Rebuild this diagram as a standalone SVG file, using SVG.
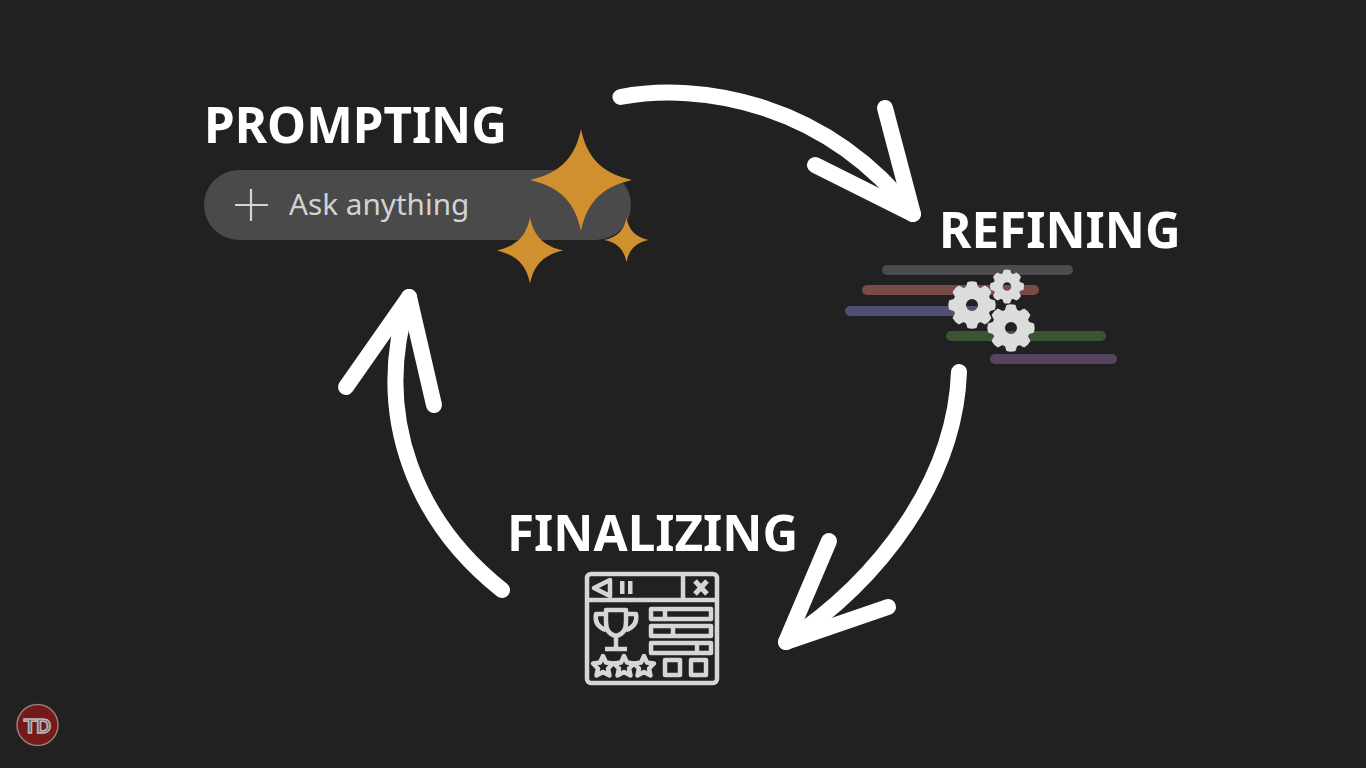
<svg xmlns="http://www.w3.org/2000/svg" xmlns:xlink="http://www.w3.org/1999/xlink" width="1366" height="768" viewBox="0 0 1366 768">
<style>
.title{font-family:"Noto Sans",sans-serif;font-weight:700;font-size:49.400px;fill:#fff}
.arrow{fill:none;stroke:#fff;stroke-width:16;stroke-linecap:round;stroke-linejoin:round}
.star{fill:#d19030}
.bar{stroke-width:10;stroke-linecap:round;fill:none}
.ic{fill:none;stroke:#d6d6d6;stroke-width:4.500;stroke-linejoin:round}
.icf{fill:#d6d6d6}
</style>
<defs>
<path id="sparkle" d="M0 -51C6 -22 21 -7 51 0C21 7 6 22 0 51C-6 22 -21 7 -51 0C-21 -7 -6 -22 0 -51Z"/>
<path id="tooth" d="M-6.500 -17L-4.500 -23Q0 -24.500 4.500 -23L6.500 -17Z" fill="#dcdcdc"/>
<g id="gearshape">
<circle r="12.500" fill="none" stroke="#dcdcdc" stroke-width="13"/>
<use xlink:href="#tooth"/>
<use xlink:href="#tooth" transform="rotate(45)"/>
<use xlink:href="#tooth" transform="rotate(90)"/>
<use xlink:href="#tooth" transform="rotate(135)"/>
<use xlink:href="#tooth" transform="rotate(180)"/>
<use xlink:href="#tooth" transform="rotate(225)"/>
<use xlink:href="#tooth" transform="rotate(270)"/>
<use xlink:href="#tooth" transform="rotate(315)"/>
</g>
<path id="mini" class="ic" d="M0 -11L3 -4.500L10 -3.500L5 1.500L6.500 8.500L0 5L-6.500 8.500L-5 1.500L-10 -3.500L-3 -4.500Z"/>
</defs>
<rect width="1366" height="768" fill="#212121"/>
<g id="connectors">
<path class="arrow" d="M620.500 97C700 82 825 102 913 214"/>
<path class="arrow" d="M885 108L913 214L815 165"/>
<path class="arrow" d="M959 372C955 480 880 580 786 642"/>
<path class="arrow" d="M829 541L786 642L888 607"/>
<path class="arrow" d="M502 590C420 525 370 420 409 297"/>
<path class="arrow" d="M346 387L409 297L434 405"/>
</g>
<g id="prompting">
<text class="title" x="204" y="143">PROMPTING</text>
<rect x="204" y="170" width="427" height="70" rx="35" fill="#4a4a4a"/>
<path d="M235 205H268M251 189V221" stroke="#d4d4d4" stroke-width="2.200" fill="none"/>
<text x="289" y="215" font-family="'Noto Sans',sans-serif" font-size="29.700" fill="#d2d2d2">Ask anything</text>
<use xlink:href="#sparkle" class="star" transform="translate(581 180)"/>
<use xlink:href="#sparkle" class="star" transform="translate(530 250.500) scale(.647)"/>
<use xlink:href="#sparkle" class="star" transform="translate(626.500 240) scale(.43)"/>
</g>
<g id="refining">
<text class="title" x="939" y="248">REFINING</text>
<path class="bar" stroke="#4c4c4c" d="M887 270H1068"/>
<path class="bar" stroke="#7a4a48" d="M867 290H1034"/>
<path class="bar" stroke="#4f4e73" d="M850 311H975"/>
<path class="bar" stroke="#3b5434" d="M951 336H1101"/>
<path class="bar" stroke="#56455f" d="M995 359H1112"/>
<use id="gear-1" xlink:href="#gearshape" transform="translate(972 305)"/>
<g id="gear-2">
<path d="M993 336H1028" stroke="#212121" stroke-width="11"/>
<path d="M1005 336H1017" stroke="#3b5434" stroke-width="10"/>
<use xlink:href="#gearshape" transform="translate(1011 328)"/>
</g>
<use id="gear-3" xlink:href="#gearshape" transform="translate(1007 286.500) scale(.72)"/>
</g>
<g id="finalizing">
<text class="title" x="507" y="551">FINALIZING</text>
<rect class="ic" x="587" y="574" width="130" height="109" rx="4"/>
<path class="ic" d="M587 600H717M683 574V600"/>
<path class="ic" d="M610 580L594 588L610 596Z"/>
<rect class="icf" x="620" y="581" width="4.500" height="13"/>
<rect class="icf" x="628" y="581" width="4.500" height="13"/>
<path d="M695 581L707 594M707 581L695 594" fill="none" stroke="#d6d6d6" stroke-width="5"/>
<path class="ic" d="M606 610H626V622Q626 634 616 636Q606 634 606 622ZM606 614H596Q594 626 606 630M626 614H636Q638 626 626 630M616 636V648M605 649H627"/>
<path class="ic" d="M651 609H711V619H651ZM665 609V619M651 626H711V636H651ZM673 626V636M651 643H711V653H651ZM697 643V653"/>
<path class="ic" d="M665 660H680V675H665ZM691 660H706V675H691Z"/>
<use xlink:href="#mini" transform="translate(603 667)"/>
<use xlink:href="#mini" transform="translate(624 667)"/>
<use xlink:href="#mini" transform="translate(644 667)"/>
</g>
<g id="logo">
<circle cx="37.500" cy="725" r="20.500" fill="#751a1a" stroke="#a07a7a" stroke-width="1.500"/>
<text x="37.500" y="732.500" text-anchor="middle" font-family="'Liberation Sans',sans-serif" font-weight="700" font-size="20.500" fill="#666" stroke="#b9b9b9" stroke-width="1.500">TD</text>
</g>
</svg>
